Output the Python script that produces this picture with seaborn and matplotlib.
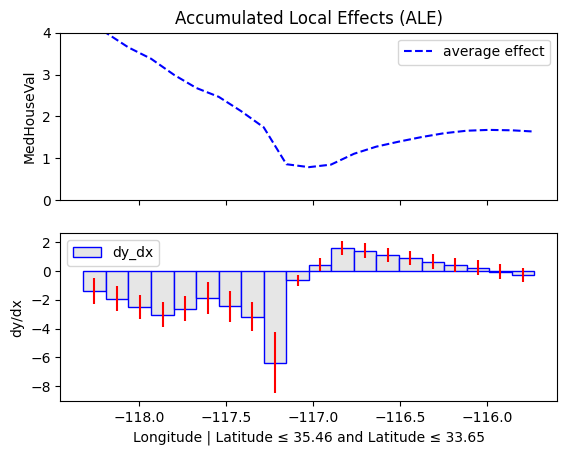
import numpy as np
import matplotlib
matplotlib.use("Agg")
import matplotlib.pyplot as plt
import seaborn as sns

# bin edges along Longitude
edges = [-118.322, -118.190, -118.061, -117.931, -117.797, -117.670, -117.542,
         -117.414, -117.283, -117.153, -117.023, -116.897, -116.764, -116.636,
         -116.506, -116.374, -116.247, -116.117, -115.989, -115.856, -115.728]

# average effect at each edge
ale = [4.30, 4.00, 3.65, 3.38, 2.99, 2.68, 2.47, 2.13, 1.74, 0.86, 0.79,
       0.85, 1.11, 1.28, 1.40, 1.51, 1.60, 1.66, 1.68, 1.67, 1.64]

# derivative per bin and its error bar half-width
dy_dx = [-1.37, -1.93, -2.48, -3.04, -2.62, -1.86, -2.46, -3.18, -6.37, -0.65,
         0.45, 1.61, 1.42, 1.14, 0.94, 0.66, 0.45, 0.24, -0.04, -0.25]
dy_dx_err = [0.89, 0.87, 0.84, 0.87, 0.87, 1.12, 1.08, 1.01, 2.13, 0.35,
             0.45, 0.49, 0.52, 0.49, 0.49, 0.52, 0.49, 0.52, 0.52, 0.49]

centers = [(a + b) / 2 for a, b in zip(edges[:-1], edges[1:])]

fig, (ax1, ax2) = plt.subplots(2, 1, sharex=True, figsize=(5.65, 4.55), dpi=100)
fig.subplots_adjust(left=0.107, right=0.9855, top=0.928, bottom=0.119, hspace=0.198)

# top: average effect
sns.lineplot(x=edges, y=ale, ax=ax1, color="blue", linestyle="--", linewidth=1.5,
             label="average effect")
ax1.set_ylim(0, 4)
ax1.set_ylabel("MedHouseVal")
ax1.set_title("Accumulated Local Effects (ALE)")
ax1.legend(loc="upper right")

# bottom: dy/dx per bin
sns.histplot(x=centers, weights=dy_dx, bins=edges, ax=ax2, element="bars",
             facecolor="#e6e6e6", edgecolor="blue", linewidth=1, alpha=1,
             label="dy_dx")
ax2.errorbar(centers, dy_dx, yerr=dy_dx_err, fmt="none", ecolor="red", elinewidth=1.5)
ax2.set_ylabel("dy/dx")
ax2.set_xlabel("Longitude | Latitude \u2264 35.46 and Latitude \u2264 33.65")
ax2.legend(loc="upper left")

plt.savefig("out.png", dpi=100)
